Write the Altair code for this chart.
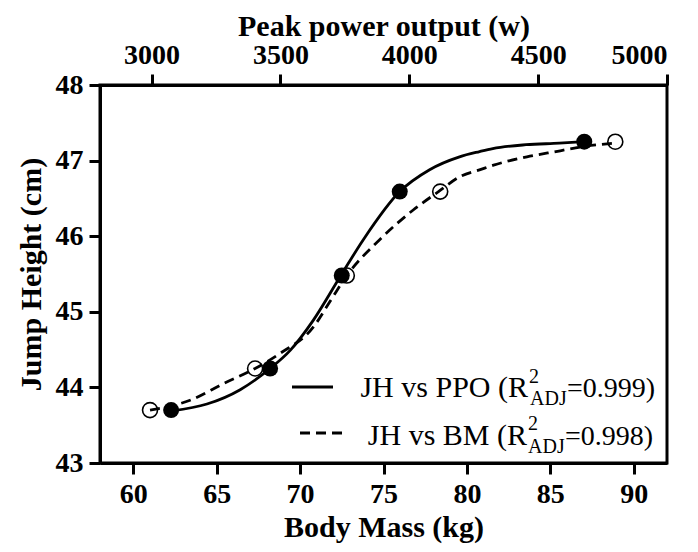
import altair as alt
import pandas as pd

# Measured data points (same jump heights plotted against two x variables)
ppo_w = [3076, 3460, 3738, 3963, 4679]
bm_kg = [61.0, 67.3, 72.8, 78.4, 88.9]
jh_cm = [43.70, 44.25, 45.48, 46.59, 47.25]

# Fitted curves
ppo_curve_w = [3080, 3215, 3344, 3460, 3538, 3628, 3731, 3821, 3963, 4079, 4195, 4273, 4324, 4453, 4582, 4679]
ppo_curve_jh = [43.69, 43.78, 43.97, 44.25, 44.49, 44.89, 45.46, 45.95, 46.59, 46.88, 47.05, 47.12, 47.16, 47.21, 47.23, 47.25]
bm_curve_kg = [61.0, 63.4, 65.4, 67.3, 68.8, 70.8, 71.8, 72.8, 74.8, 76.8, 78.3, 79.6, 80.8, 81.6, 83.6, 85.6, 86.8, 88.8]
bm_curve_jh = [43.70, 43.83, 44.05, 44.25, 44.45, 44.80, 45.14, 45.48, 45.96, 46.35, 46.59, 46.79, 46.88, 46.94, 47.05, 47.13, 47.18, 47.23]

bm_ticks = [60, 65, 70, 75, 80, 85, 90]
ppo_ticks = [3000, 3500, 4000, 4500, 5000]
jh_ticks = [43, 44, 45, 46, 47, 48]

FONT = "Liberation Serif"

pts_df = pd.DataFrame({"ppo": ppo_w, "bm": bm_kg, "jh": jh_cm})
ppo_curve = pd.DataFrame({"ppo": ppo_curve_w, "jh": ppo_curve_jh})
bm_curve = pd.DataFrame({"bm": bm_curve_kg, "jh": bm_curve_jh})

yenc = alt.Y("jh:Q", scale=alt.Scale(domain=[43, 48], nice=False, zero=False),
             axis=alt.Axis(values=jh_ticks, title="Jump Height (cm)", orient="left", format="d",
                           titlePadding=9))

x_ppo = alt.X("ppo:Q", scale=alt.Scale(domain=[2800, 5000], nice=False, zero=False),
              axis=alt.Axis(orient="top", values=ppo_ticks, title="Peak power output (w)", format="d",
                            labelPadding=5, titlePadding=0))
x_bm = alt.X("bm:Q", scale=alt.Scale(domain=[58, 92], nice=False, zero=False),
             axis=alt.Axis(orient="bottom", values=bm_ticks, title="Body Mass (kg)", format="d",
                           titlePadding=4))

ppo_line = alt.Chart(ppo_curve).mark_line(color="black", strokeWidth=2.8, interpolate="monotone").encode(x=x_ppo, y=yenc)
ppo_pts = alt.Chart(pts_df).mark_point(shape="circle", filled=True, color="black", size=256, opacity=1).encode(x=x_ppo, y=yenc)
bm_line = alt.Chart(bm_curve).mark_line(color="black", strokeWidth=2.8, strokeDash=[10, 6], interpolate="monotone").encode(x=x_bm, y=yenc)
bm_pts = alt.Chart(pts_df).mark_point(shape="circle", filled=False, color="black", size=225, strokeWidth=1.6, opacity=1).encode(x=x_bm, y=yenc)

one = pd.DataFrame({"a": [0]})

def txt(s, x, y, size, align):
    return alt.Chart(one).mark_text(font=FONT, fontSize=size, color="black", align=align, baseline="alphabetic").encode(
        x=alt.value(x), y=alt.value(y), text=alt.value(s))

legend = [
    alt.Chart(one).mark_rule(color="black", strokeWidth=2.8).encode(x=alt.value(192), x2=alt.value(233), y=alt.value(302)),
    alt.Chart(one).mark_rule(color="black", strokeWidth=2.8, strokeDash=[10, 6]).encode(x=alt.value(200), x2=alt.value(242), y=alt.value(348)),
    txt("JH vs PPO (R", 428, 312, 30, "right"),
    txt("2", 429, 298, 20, "left"),
    txt("ADJ", 430, 320, 20, "left"),
    txt("=0.999)", 467, 312, 28, "left"),
    txt("JH vs BM (R", 427, 360, 30, "right"),
    txt("2", 428, 345, 20, "left"),
    txt("ADJ", 428, 368, 20, "left"),
    txt("=0.998)", 465, 360, 28, "left"),
]

chart = alt.layer(
    alt.layer(bm_line, bm_pts),
    alt.layer(ppo_line, ppo_pts),
    *legend,
).resolve_scale(x="independent").properties(
    width=567, height=378,
    autosize=alt.AutoSizeParams(type="none"),
    padding={"left": 92, "top": 77, "right": 23, "bottom": 81},
).configure_axis(
    grid=False,
    domainColor="black", domainWidth=3,
    tickColor="black", tickWidth=3, tickSize=11,
    labelFont=FONT, labelFontSize=28, labelFontWeight="bold", labelColor="black", labelPadding=6,
    titleFont=FONT, titleFontSize=30, titleFontWeight="bold", titleColor="black",
).configure_view(stroke="black", strokeWidth=3)

chart.save("out.html", embed_options={"renderer": "svg", "actions": False})
